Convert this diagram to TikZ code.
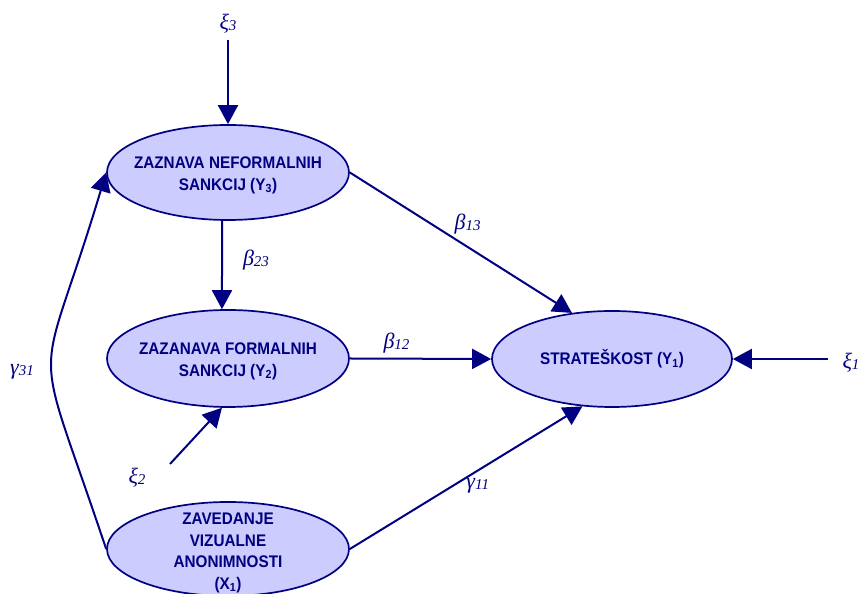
\documentclass[tikz,border=0pt]{standalone}
\usepackage{fontspec}
\usetikzlibrary{arrows.meta,shapes.geometric}
\newfontfamily\boxfont[FakeStretch=0.91]{Liberation Sans}
\newfontfamily\grkfont{Liberation Serif}
\definecolor{navyline}{RGB}{0,0,128}
\definecolor{lavfill}{RGB}{204,204,255}
\newcommand{\coefl}[2]{#1\raisebox{-1pt}{\fontsize{15}{15}\selectfont #2}}

\begin{document}
\begin{tikzpicture}[x=1pt,y=1pt,
    latent/.style={ellipse,draw=navyline,fill=lavfill,line width=1.7pt,minimum width=242pt,minimum height=95pt,inner sep=0pt},
    boxtext/.style={text=navyline,align=center,inner sep=0pt,font=\boxfont\bfseries\fontsize{16.8}{21.5}\selectfont},
    coef/.style={text=navyline,inner sep=1pt,font=\grkfont\itshape\fontsize{22}{22}\selectfont},
    effect/.style={draw=navyline,line width=2pt,-{Triangle[length=19pt,width=20pt]}}]
                \useasboundingbox (0,0) rectangle (863,594);
                \node[latent] (y3) at (228,421.5) {};
                \node[latent,minimum height=97pt] (y2) at (228,235.5) {};
                \node[latent,minimum height=94pt] (x1) at (228,45) {};
                \node[latent,minimum width=240pt,minimum height=96pt] (y1) at (612,235) {};
                \node[boxtext,yshift=-3pt] (y3t) at (y3) {ZAZNAVA NEFORMALNIH\\SANKCIJ (Y\textsubscript{3})};
                \node[boxtext,yshift=-3pt] (y2t) at (y2) {ZAZANAVA FORMALNIH\\SANKCIJ (Y\textsubscript{2})};
                \node[boxtext,yshift=-4pt] (x1t) at (x1) {ZAVEDANJE\\VIZUALNE\\ANONIMNOSTI\\(X\textsubscript{1})};
                \node[boxtext] (y1t) at (y1) {STRATEŠKOST (Y\textsubscript{1})};
                \node[coef] (xi3) at (228,570) {\coefl{ξ}{3}};
                \node[coef] (xi1) at (851,231) {\coefl{ξ}{1}};
                \node[coef] (xi2) at (137,116) {\coefl{ξ}{2}};
                \coordinate (e3) at (228,554);
                \coordinate (e1) at (828,235);
                \coordinate (e2) at (170,130);
                \draw[effect] (e3)--(y3.north);
                \draw[effect] (e1)--(y1.east);
                \draw[effect] (e2)--(y2.-97);
                \draw[effect] (y3.-97)--(y2.97)node[coef,pos=0.45,right=19pt]{\coefl{β}{23}};
                \draw[effect] (y3.east)--(y1.131)node[coef,pos=0.53,above=11pt]{\coefl{β}{13}};
                \draw[effect] (y2.east)--(y1.west)node[coef,pos=0.33,above=3pt]{\coefl{β}{12}};
                \draw[effect] (x1.east)--(y1.238)node[coef,pos=0.55,below=6pt]{\coefl{γ}{11}};
                \draw[effect] (x1.west) .. controls (30,273) and (37,191) .. (y3.west);
                \node[coef] (g31) at (22,222) {\coefl{γ}{31}};
            \end{tikzpicture}
\end{document}
